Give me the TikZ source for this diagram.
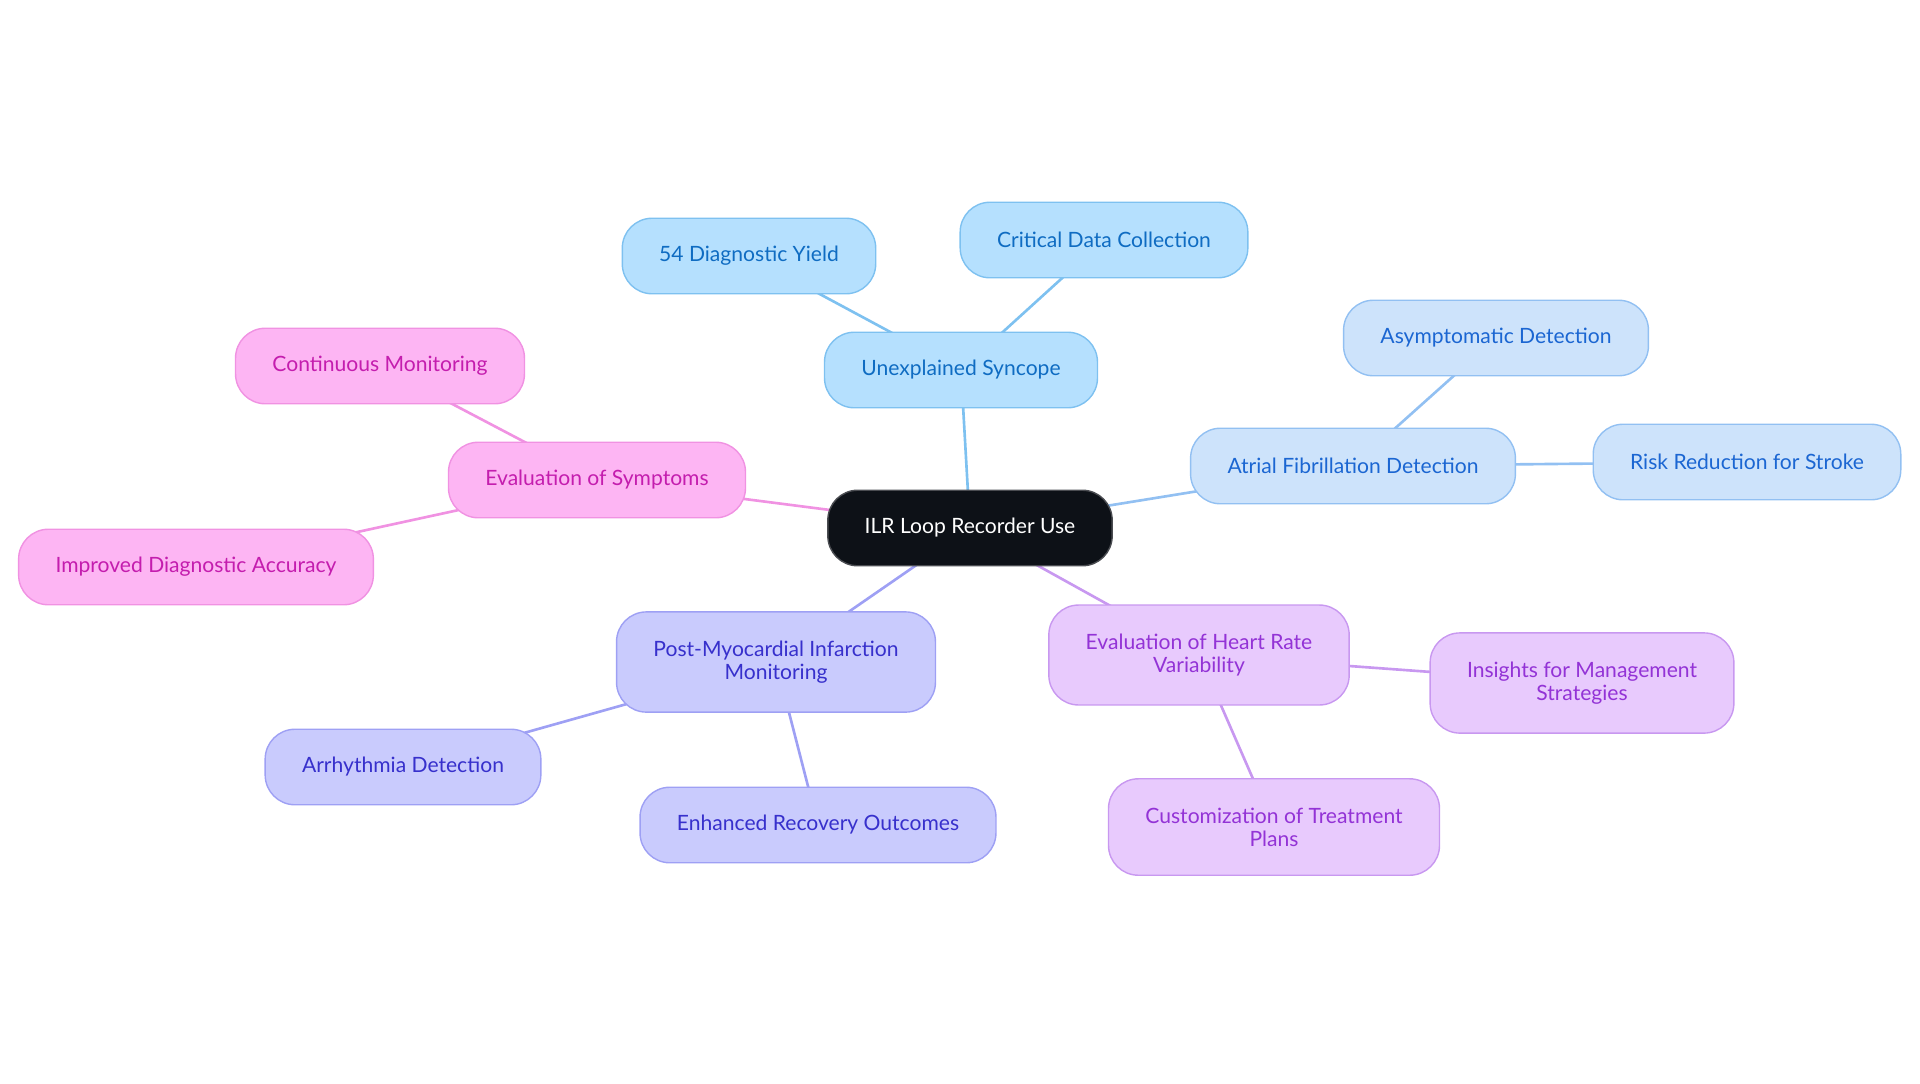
\documentclass[tikz,border=0pt]{standalone}
\usepackage{fontspec}
\setmainfont{Lato}
\usetikzlibrary{backgrounds}
\definecolor{rootfill}{HTML}{0D1117}
\definecolor{skyfill}{HTML}{B5E0FE}
\definecolor{skyline}{HTML}{7EC1F0}
\definecolor{skytext}{HTML}{0F6CC2}
\definecolor{afibfill}{HTML}{CDE3FB}
\definecolor{afibline}{HTML}{92C0F2}
\definecolor{afibtext}{HTML}{1B66D2}
\definecolor{pinkfill}{HTML}{FDB5F3}
\definecolor{pinkline}{HTML}{F092E2}
\definecolor{pinktext}{HTML}{C41DAE}
\definecolor{indfill}{HTML}{C9CBFD}
\definecolor{indline}{HTML}{9EA0F4}
\definecolor{indtext}{HTML}{3730CC}
\definecolor{purfill}{HTML}{E8CAFD}
\definecolor{purline}{HTML}{C898F0}
\definecolor{purtext}{HTML}{9333D6}
\begin{document}
\begin{tikzpicture}[x=0.02cm,y=-0.02cm,
  box/.style={rectangle,rounded corners=17pt,draw,line width=0.8pt,inner xsep=21pt,inner ysep=15pt,minimum height=43pt,align=center,font=\fontsize{12}{13}\selectfont},
  twoline/.style={inner ysep=16.5pt},
  rootbox/.style={box,fill=rootfill,draw=rootfill!75!white,text=white},
  sky/.style={box,fill=skyfill,draw=skyline,text=skytext},
  afib/.style={box,fill=afibfill,draw=afibline,text=afibtext},
  pinkbox/.style={box,fill=pinkfill,draw=pinkline,text=pinktext},
  indbox/.style={box,fill=indfill,draw=indline,text=indtext},
  purbox/.style={box,fill=purfill,draw=purline,text=purtext},
  link/.style={line width=1.5pt}]
\useasboundingbox (0,0) rectangle (1920,1083);
% centre
\node[rootbox] (ilr) at (970,528) {ILR Loop Recorder Use};
% syncope
\node[sky] (syncope) at (961,370) {Unexplained Syncope};
\node[sky] (yield) at (749,256) {54 Diagnostic Yield};
\node[sky] (data) at (1104,240) {Critical Data Collection};
% atrial fibrillation
\node[afib] (afib) at (1353,466) {Atrial Fibrillation Detection};
\node[afib] (asym) at (1496,338) {Asymptomatic Detection};
\node[afib] (stroke) at (1747,462) {Risk Reduction for Stroke};
% symptoms
\node[pinkbox] (symptoms) at (597,480) {Evaluation of Symptoms};
\node[pinkbox] (contmon) at (380,366) {Continuous Monitoring};
\node[pinkbox] (accuracy) at (196,567) {Improved Diagnostic Accuracy};
% post-MI
\node[indbox,twoline] (postmi) at (776,662) {Post-Myocardial Infarction\\Monitoring};
\node[indbox] (arrhythmia) at (403,767) {Arrhythmia Detection};
\node[indbox] (recovery) at (818,825) {Enhanced Recovery Outcomes};
% heart rate variability
\node[purbox,twoline] (hrv) at (1199,655) {Evaluation of Heart Rate\\Variability};
\node[purbox,twoline] (insights) at (1582,683) {Insights for Management\\Strategies};
\node[purbox,twoline] (custom) at (1274,827) {Customization of Treatment\\Plans};
% links, behind the boxes
\begin{scope}[on background layer]
\draw[link,skyline] (ilr.center) -- (syncope.center);
\draw[link,skyline] (syncope.center) -- (yield.center);
\draw[link,skyline] (syncope.center) -- (data.center);
\draw[link,afibline] (ilr.center) -- (afib.center);
\draw[link,afibline] (afib.center) -- (asym.center);
\draw[link,afibline] (afib.center) -- (stroke.center);
\draw[link,pinkline] (ilr.center) -- (symptoms.center);
\draw[link,pinkline] (symptoms.center) -- (contmon.center);
\draw[link,pinkline] (symptoms.center) -- (accuracy.center);
\draw[link,indline] (ilr.center) -- (postmi.center);
\draw[link,indline] (postmi.center) -- (arrhythmia.center);
\draw[link,indline] (postmi.center) -- (recovery.center);
\draw[link,purline] (ilr.center) -- (hrv.center);
\draw[link,purline] (hrv.center) -- (insights.center);
\draw[link,purline] (hrv.center) -- (custom.center);
\end{scope}
\end{tikzpicture}
\end{document}
